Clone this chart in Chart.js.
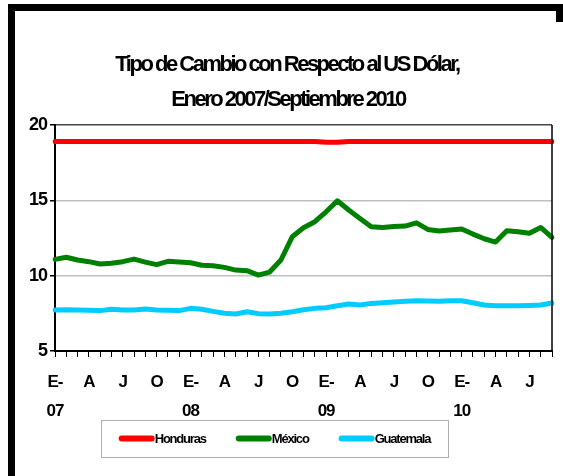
<!DOCTYPE html>
<html>
<head>
<meta charset="utf-8">
<script src="https://cdn.jsdelivr.net/npm/chart.js@4.4.1/dist/chart.umd.min.js"></script>
<style>
  html, body { margin: 0; padding: 0; background: #fff; }
  #wrap { width: 563px; height: 476px; position: relative; }
</style>
</head>
<body>
<div id="wrap"><canvas id="fxChart" width="563" height="476"></canvas></div>
<script>
// monthly categories, Jan 2007 .. Sep 2010
const months = [
  'E-07','F-07','M-07','A-07','M-07','J-07','J-07','A-07','S-07','O-07','N-07','D-07',
  'E-08','F-08','M-08','A-08','M-08','J-08','J-08','A-08','S-08','O-08','N-08','D-08',
  'E-09','F-09','M-09','A-09','M-09','J-09','J-09','A-09','S-09','O-09','N-09','D-09',
  'E-10','F-10','M-10','A-10','M-10','J-10','J-10','A-10','S-10'
];
// one label every third month
const tickLabels = [
  ['E-','07'], 'A', 'J', 'O',
  ['E-','08'], 'A', 'J', 'O',
  ['E-','09'], 'A', 'J', 'O',
  ['E-','10'], 'A', 'J'
];
const yTicks = [5, 10, 15, 20];

const honduras = [
  18.9, 18.9, 18.9, 18.9, 18.9, 18.9, 18.9, 18.9, 18.9, 18.9,
  18.9, 18.9, 18.9, 18.9, 18.9, 18.9, 18.9, 18.9, 18.9, 18.9,
  18.9, 18.9, 18.9, 18.9, 18.86, 18.86, 18.9, 18.9, 18.9, 18.9,
  18.9, 18.9, 18.9, 18.9, 18.9, 18.9, 18.9, 18.9, 18.9, 18.9,
  18.9, 18.9, 18.9, 18.9, 18.9
];
const mexico = [
  11.08, 11.22, 11.04, 10.93, 10.77, 10.82, 10.93, 11.10, 10.90, 10.73,
  10.95, 10.90, 10.86, 10.69, 10.66, 10.55, 10.37, 10.33, 10.04, 10.24,
  11.04, 12.58, 13.18, 13.58, 14.24, 14.97, 14.36, 13.80, 13.25, 13.19,
  13.27, 13.29, 13.51, 13.07, 12.96, 13.03, 13.10, 12.76, 12.45, 12.23,
  12.98, 12.92, 12.81, 13.20, 12.54
];
const guatemala = [
  7.72, 7.74, 7.72, 7.70, 7.68, 7.77, 7.72, 7.72, 7.79, 7.72,
  7.70, 7.68, 7.83, 7.77, 7.63, 7.50, 7.46, 7.61, 7.48, 7.46,
  7.50, 7.61, 7.74, 7.83, 7.87, 8.00, 8.12, 8.05, 8.16, 8.20,
  8.25, 8.30, 8.34, 8.32, 8.30, 8.34, 8.34, 8.20, 8.05, 8.00,
  8.00, 8.00, 8.02, 8.05, 8.18
];

const titleLines = ['Tipo de Cambio con Respecto al US Dólar,', 'Enero 2007/Septiembre 2010'];
const FONT = '"Liberation Sans", Arial, sans-serif';

// title, outer frame, plot box and boxed legend
const decor = {
  id: 'decor',
  beforeDraw(chart) {
    chart.ctx.letterSpacing = '-1px';
  },
  afterDraw(chart) {
    const ctx = chart.ctx;
    const a = chart.chartArea;
    ctx.save();

    // plot box right edge
    ctx.strokeStyle = '#000';
    ctx.lineWidth = 1.5;
    ctx.beginPath();
    ctx.moveTo(a.right, a.top);
    ctx.lineTo(a.right, a.bottom);
    ctx.stroke();

    // outer frame
    ctx.fillStyle = '#000';
    ctx.fillRect(8, 4, 555, 7);
    ctx.fillRect(8, 4, 7, 472);
    ctx.fillRect(556, 4, 7, 18);

    // title
    ctx.fillStyle = '#000';
    ctx.textAlign = 'center';
    ctx.textBaseline = 'alphabetic';
    ctx.font = 'bold 22px ' + FONT;
    ctx.letterSpacing = '-2.5px';
    ctx.fillText(titleLines[0], 287, 71);
    ctx.fillText(titleLines[1], 288, 106);

    // legend
    const box = { x: 101, y: 420, w: 347, h: 37 };
    ctx.strokeStyle = '#b0b0b0';
    ctx.lineWidth = 1;
    ctx.strokeRect(box.x + 0.5, box.y + 0.5, box.w, box.h);

    ctx.font = 'bold 13px ' + FONT;
    ctx.letterSpacing = '-1.2px';
    ctx.textAlign = 'left';
    ctx.textBaseline = 'middle';
    const sw = 36, gap = 30;
    const sets = chart.data.datasets;
    const widths = sets.map(d => sw + ctx.measureText(d.label).width);
    const total = widths.reduce((s, w) => s + w, 0) + gap * (sets.length - 1);
    let x = box.x + (box.w - total) / 2;
    const cy = box.y + box.h / 2;
    sets.forEach((d, i) => {
      ctx.strokeStyle = d.borderColor;
      ctx.lineWidth = 6;
      ctx.lineCap = 'round';
      ctx.beginPath();
      ctx.moveTo(x + 3, cy);
      ctx.lineTo(x + sw - 3, cy);
      ctx.stroke();
      ctx.fillStyle = '#000';
      ctx.fillText(d.label, x + sw, cy + 1);
      x += widths[i] + gap;
    });

    ctx.restore();
  }
};

const ctx = document.getElementById('fxChart').getContext('2d');
new Chart(ctx, {
  type: 'line',
  data: {
    labels: months,
    datasets: [
      { label: 'Honduras', data: honduras, borderColor: '#ff0000' },
      { label: 'México', data: mexico, borderColor: '#008000' },
      { label: 'Guatemala', data: guatemala, borderColor: '#00ccff' }
    ]
  },
  options: {
    responsive: false,
    animation: false,
    events: [],
    elements: {
      line: { borderWidth: 5, tension: 0, borderCapStyle: 'round', borderJoinStyle: 'round', fill: false },
      point: { radius: 0 }
    },
    layout: { padding: { top: 125, right: 10, bottom: 55, left: 0 } },
    plugins: {
      legend: { display: false },
      title: { display: false },
      tooltip: { enabled: false }
    },
    scales: {
      x: {
        offset: false,
        grid: { drawOnChartArea: false, drawTicks: true, tickLength: 6, tickColor: '#000', tickWidth: 1 },
        border: { color: '#000', width: 2 },
        ticks: {
          autoSkip: false,
          maxRotation: 0,
          minRotation: 0,
          padding: 11,
          color: '#000',
          font: { family: FONT, size: 17, weight: 'bold', lineHeight: 29 / 17 },
          callback: (v, i) => (i % 3 === 0 ? tickLabels[i / 3] : '')
        },
        afterFit: s => { s.height = 70; }
      },
      y: {
        min: 5,
        max: 20,
        afterBuildTicks: s => { s.ticks = yTicks.map(v => ({ value: v })); },
        grid: {
          color: c => (c.tick && c.tick.value === 20 ? '#444' : '#c0c0c0'),
          lineWidth: 1.5,
          tickLength: 5,
          tickColor: '#000'
        },
        border: { color: '#000', width: 2 },
        ticks: {
          padding: 3,
          color: '#000',
          font: { family: FONT, size: 18, weight: 'bold' }
        },
        afterFit: s => { s.width = 55; }
      }
    }
  },
  plugins: [decor]
});
</script>
</body>
</html>
